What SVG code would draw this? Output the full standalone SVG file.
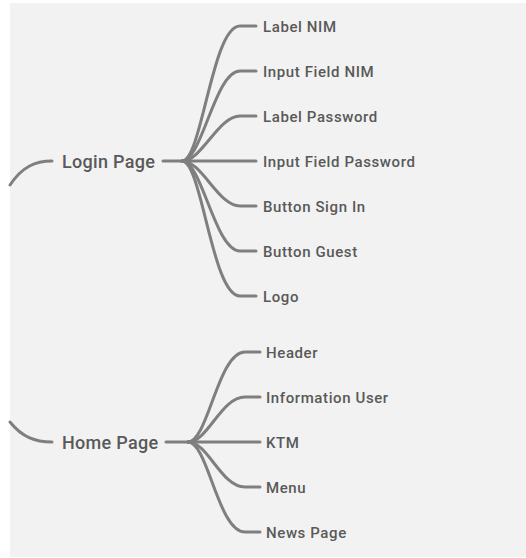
<svg xmlns="http://www.w3.org/2000/svg" width="526" height="558" viewBox="0 0 526 558">
<style>
.c{fill:none;stroke:#7f7f7f;stroke-width:3;stroke-linecap:round}
.t{font-family:Roboto,"Liberation Sans",sans-serif;font-size:15px;fill:#595959;font-weight:500;letter-spacing:0.6px}
.p{font-family:Roboto,"Liberation Sans",sans-serif;font-size:18px;fill:#595959;font-weight:500;letter-spacing:0.3px}
</style>
<rect x="0" y="0" width="526" height="558" fill="#ffffff"/>
<rect x="10" y="3" width="516" height="554" fill="#f2f2f2"/>
<g id="connectors">
<path class="c" d="M10,185 C22,167 35,161 52,161"/>
<path class="c" d="M10,422 C22,437 35,442 52,442"/>
<path class="c" d="M163,161 L182,161"/>
<path class="c" d="M182,161 C202,161 212,26 240,26 L256,26"/>
<path class="c" d="M182,161 C202,161 215,71 240,71 L256,71"/>
<path class="c" d="M182,161 C202,161 218,116 240,116 L256,116"/>
<path class="c" d="M182,161 L256,161"/>
<path class="c" d="M182,161 C202,161 218,206 240,206 L256,206"/>
<path class="c" d="M182,161 C202,161 215,251 240,251 L256,251"/>
<path class="c" d="M182,161 C202,161 212,296 240,296 L256,296"/>
<path class="c" d="M166,442 L188,442"/>
<path class="c" d="M188,442 C208,442 218,352 245,352 L260,352"/>
<path class="c" d="M188,442 C208,442 221,397 245,397 L260,397"/>
<path class="c" d="M188,442 L260,442"/>
<path class="c" d="M188,442 C208,442 221,487 245,487 L260,487"/>
<path class="c" d="M188,442 C208,442 218,532 245,532 L260,532"/>
</g>
<g id="login-page"><text class="p" x="62" y="168">Login Page</text></g>
<g id="label-nim"><text class="t" x="263" y="32">Label NIM</text></g>
<g id="input-field-nim"><text class="t" x="263" y="77">Input Field NIM</text></g>
<g id="label-password"><text class="t" x="263" y="122">Label Password</text></g>
<g id="input-field-password"><text class="t" x="263" y="167">Input Field Password</text></g>
<g id="button-sign-in"><text class="t" x="263" y="212">Button Sign In</text></g>
<g id="button-guest"><text class="t" x="263" y="257">Button Guest</text></g>
<g id="logo"><text class="t" x="263" y="302">Logo</text></g>
<g id="home-page"><text class="p" x="62" y="449">Home Page</text></g>
<g id="header"><text class="t" x="266" y="358">Header</text></g>
<g id="information-user"><text class="t" x="266" y="403">Information User</text></g>
<g id="ktm"><text class="t" x="266" y="448">KTM</text></g>
<g id="menu"><text class="t" x="266" y="493">Menu</text></g>
<g id="news-page"><text class="t" x="266" y="538">News Page</text></g>
</svg>
